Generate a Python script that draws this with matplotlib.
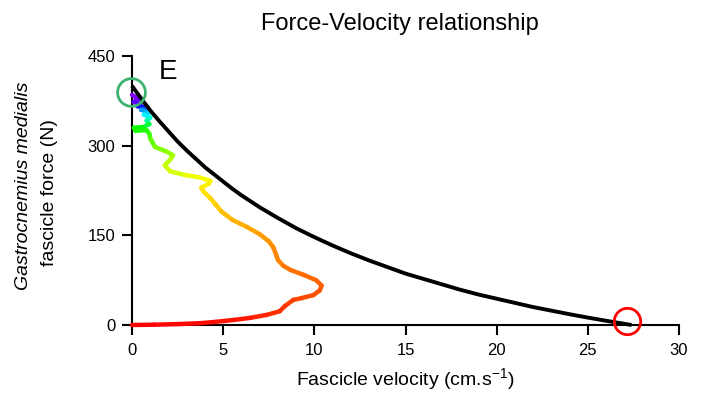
import matplotlib
matplotlib.use("Agg")
import matplotlib.pyplot as plt
import numpy as np
from matplotlib.collections import LineCollection

plt.rcParams['font.family'] = ['Liberation Sans', 'DejaVu Sans']
plt.rcParams['mathtext.fontset'] = 'custom'
plt.rcParams['mathtext.rm'] = 'Liberation Sans'
plt.rcParams['mathtext.it'] = 'Liberation Sans:italic'

# Force-velocity model curve
model_velocity = [0, 0.5, 1, 1.5, 2, 2.5, 3, 3.5, 4, 4.5, 5, 5.5, 6, 7, 8, 9, 10,
                  11, 12, 13, 14, 15, 16, 17, 18, 19, 20, 21, 22, 23, 24, 25,
                  26, 27, 27.4]
model_force = [400, 379, 359, 341, 324, 307, 292, 278, 264, 252, 240, 228, 217,
               197, 179, 162, 147, 133, 120, 108, 97, 86, 77, 68, 59, 51, 44,
               37, 30, 24, 18, 12.4, 7.1, 2.0, 0]

# Measured fascicle trajectory (velocity, force, phase hue along the contraction)
traj_velocity = [0.0, 0.35, 0.1, 0.45, 0.3, 0.85, 0.5, 0.95, 0.65, 1.0, 0.8, 0.95,
                 0.6, 0.1, 0.2, 0.8, 0.95, 1.0, 1.26, 1.9, 2.25, 2.1, 1.8, 2.1,
                 2.9, 3.7, 4.3, 4.2, 3.8, 3.9, 4.3, 4.6, 4.9, 5.5, 6.3, 7.0, 7.5,
                 7.75, 7.9, 8.0, 8.3, 8.7, 9.4, 10.1, 10.4, 10.3, 9.95, 9.3, 8.85,
                 8.4, 8.1, 7.4, 6.5, 5.6, 4.5, 3.7, 2.5, 1.2, 0.0]
traj_force = [385, 378, 373, 370, 366, 364, 360, 356, 352, 347, 342, 336,
              331, 330, 325, 326, 320, 312, 298, 290, 284, 277, 267, 257,
              251, 247, 241, 236, 230, 224, 212, 201, 190, 176, 164, 152, 140,
              130, 118, 109, 99, 92, 84, 75, 66, 58, 50, 45, 42,
              32, 23, 17, 12, 8.5, 5, 3, 1.5, 0.5, 0]
traj_hue = [275, 272, 268, 262, 250, 235, 215, 200, 190, 180, 165, 145,
            125, 120, 118, 115, 110, 105, 97, 88, 84, 80, 76, 73,
            68, 64, 61, 59, 57, 55, 52, 50, 47, 44, 41, 38, 36,
            34, 33, 32, 30, 28, 26, 25, 24, 22, 20, 18, 17,
            15, 13, 11, 8, 6, 4, 3, 2, 1, 0]

vmax_point = (27.15, 6.7)
f0_point = (-0.05, 390)

fig = plt.figure(figsize=(7.03, 4.12), dpi=100)
ax = fig.add_axes([132/703, 1-325/412, (679-132)/703, (325-56)/412])

pts = np.column_stack([traj_velocity, traj_force])
segs = np.stack([pts[:-1], pts[1:]], axis=1)
hues = np.array(traj_hue, dtype=float)
seg_h = (hues[:-1] + hues[1:]) / 2 / 360.0
cmap = plt.get_cmap('hsv')
lc = LineCollection(segs, colors=cmap(seg_h), linewidths=3.2,
                    capstyle='round', joinstyle='round', clip_on=False, zorder=3)
ax.add_collection(lc)

ax.plot(model_velocity, model_force, color='black', lw=2.8,
        solid_capstyle='butt', solid_joinstyle='round', zorder=4, clip_on=False)

ax.plot([f0_point[0]], [f0_point[1]], 'o', ms=20, mfc='none', mec='#3cb371',
        mew=2.0, clip_on=False, zorder=5)
ax.plot([vmax_point[0]], [vmax_point[1]], 'o', ms=19, mfc='none', mec='#ff0000',
        mew=2.0, clip_on=False, zorder=5)

ax.text(1.95, 423, 'E', fontsize=20, ha='center', va='center')

ax.set_xlim(0, 30)
ax.set_ylim(0, 450)
ax.set_xticks([0, 5, 10, 15, 20, 25, 30])
ax.set_yticks([0, 150, 300, 450])
for s in ['top', 'right']:
    ax.spines[s].set_visible(False)
for s in ['left', 'bottom']:
    ax.spines[s].set_linewidth(1.5)
ax.tick_params(direction='out', length=7, width=1.5, labelsize=12)
ax.tick_params(axis='y', pad=5)
ax.tick_params(axis='x', pad=6)

ax.set_xlabel('Fascicle velocity (cm.s$^{-1}$)', fontsize=14, labelpad=6)
fig.text(24/703, 1-186/412, 'Gastrocnemius medialis', rotation=90, fontsize=14,
         style='italic', ha='center', va='center')
fig.text(50/703, 1-193/412, 'fascicle force (N)', rotation=90, fontsize=14,
         ha='center', va='center')
fig.text(400/703, 1-24/412, 'Force-Velocity relationship', fontsize=17,
         ha='center', va='center')

fig.savefig('out.png', dpi=100)
